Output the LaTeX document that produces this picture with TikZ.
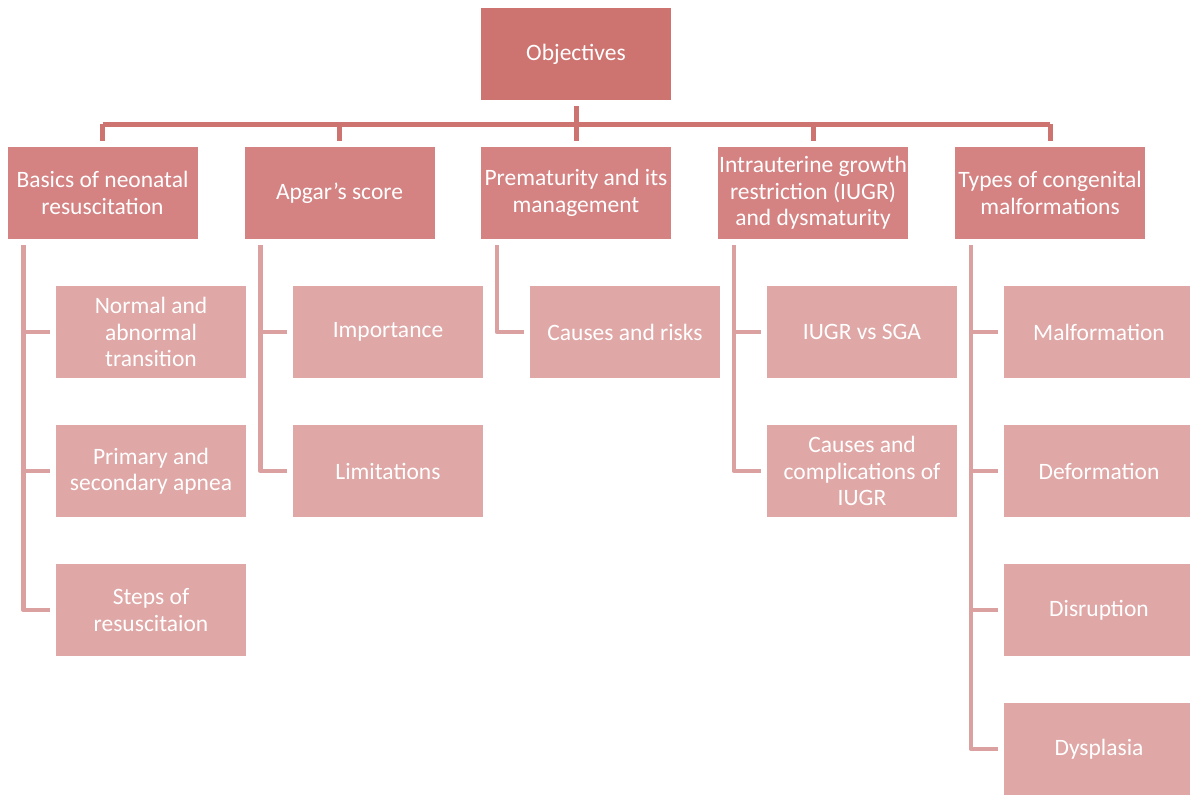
\documentclass[tikz,border=0pt]{standalone}
\usepackage{fontspec}
\setmainfont{Carlito}
\definecolor{c0}{HTML}{CD7370}
\definecolor{c1}{HTML}{D48282}
\definecolor{c2}{HTML}{DFA7A6}
\definecolor{l2}{HTML}{DBA1A1}
\tikzset{
  box/.style={minimum width=190pt, minimum height=92pt, inner sep=0pt, align=center, text=white,
    font=\fontsize{23.5pt}{26.5pt}\selectfont},
  topbox/.style={box, fill=c0},
  midbox/.style={box, fill=c1},
  leafbox/.style={box, fill=c2},
  conn1/.style={draw=c0, line width=5pt},
  conn2/.style={draw=l2, line width=4.5pt, line join=round},
}
\begin{document}
\begin{tikzpicture}[x=1pt,y=-1pt]
\useasboundingbox (0,0) rectangle (1190,795);
\node[topbox] (top) at (576,54) {Objectives};
\coordinate (hb) at (576,124);
\node[midbox] (b1) at (102.5,193) {Basics of neonatal\\resuscitation};
\node[midbox] (b2) at (339.5,193) {Apgar’s score};
\node[midbox] (b3) at (576,193) {Prematurity and its\\management};
\node[midbox] (b4) at (813,193) {Intrauterine growth\\restriction (IUGR)\\and dysmaturity};
\node[midbox] (b5) at (1050,193) {Types of congenital\\malformations};

\node[leafbox] (c11) at (151,332) {Normal and\\abnormal\\transition};
\node[leafbox] (c12) at (151,471) {Primary and\\secondary apnea};
\node[leafbox] (c13) at (151,610) {Steps of\\resuscitaion};
\node[leafbox] (c21) at (388,332) {Importance};
\node[leafbox] (c22) at (388,471) {Limitations};
\node[leafbox] (c31) at (625,332) {Causes and risks};
\node[leafbox] (c41) at (862,332) {IUGR vs SGA};
\node[leafbox] (c42) at (862,471) {Causes and\\complications of\\IUGR};
\node[leafbox] (c51) at (1099,332) {Malformation};
\node[leafbox] (c52) at (1099,471) {Deformation};
\node[leafbox] (c53) at (1099,610) {Disruption};
\node[leafbox] (c54) at (1099,749) {Dysplasia};

% top-level connectors
\draw[conn1] ([yshift=-6pt]top.south) -- ([yshift=6pt]b3.north);
\draw[conn1] (b1.north |- hb) -- (b5.north |- hb);
\foreach \b in {b1,b2,b4,b5}{
  \draw[conn1] (\b.north |- hb) -- ([yshift=6pt]\b.north);
}
% second-level connectors
\foreach \p/\c in {b1/c11,b1/c12,b1/c13,b2/c21,b2/c22,b3/c31,b4/c41,b4/c42,b5/c51,b5/c52,b5/c53,b5/c54}{
  \draw[conn2] ([xshift=16pt,yshift=-6pt]\p.south west) |- ([xshift=-6pt]\c.west);
}
\end{tikzpicture}
\end{document}
